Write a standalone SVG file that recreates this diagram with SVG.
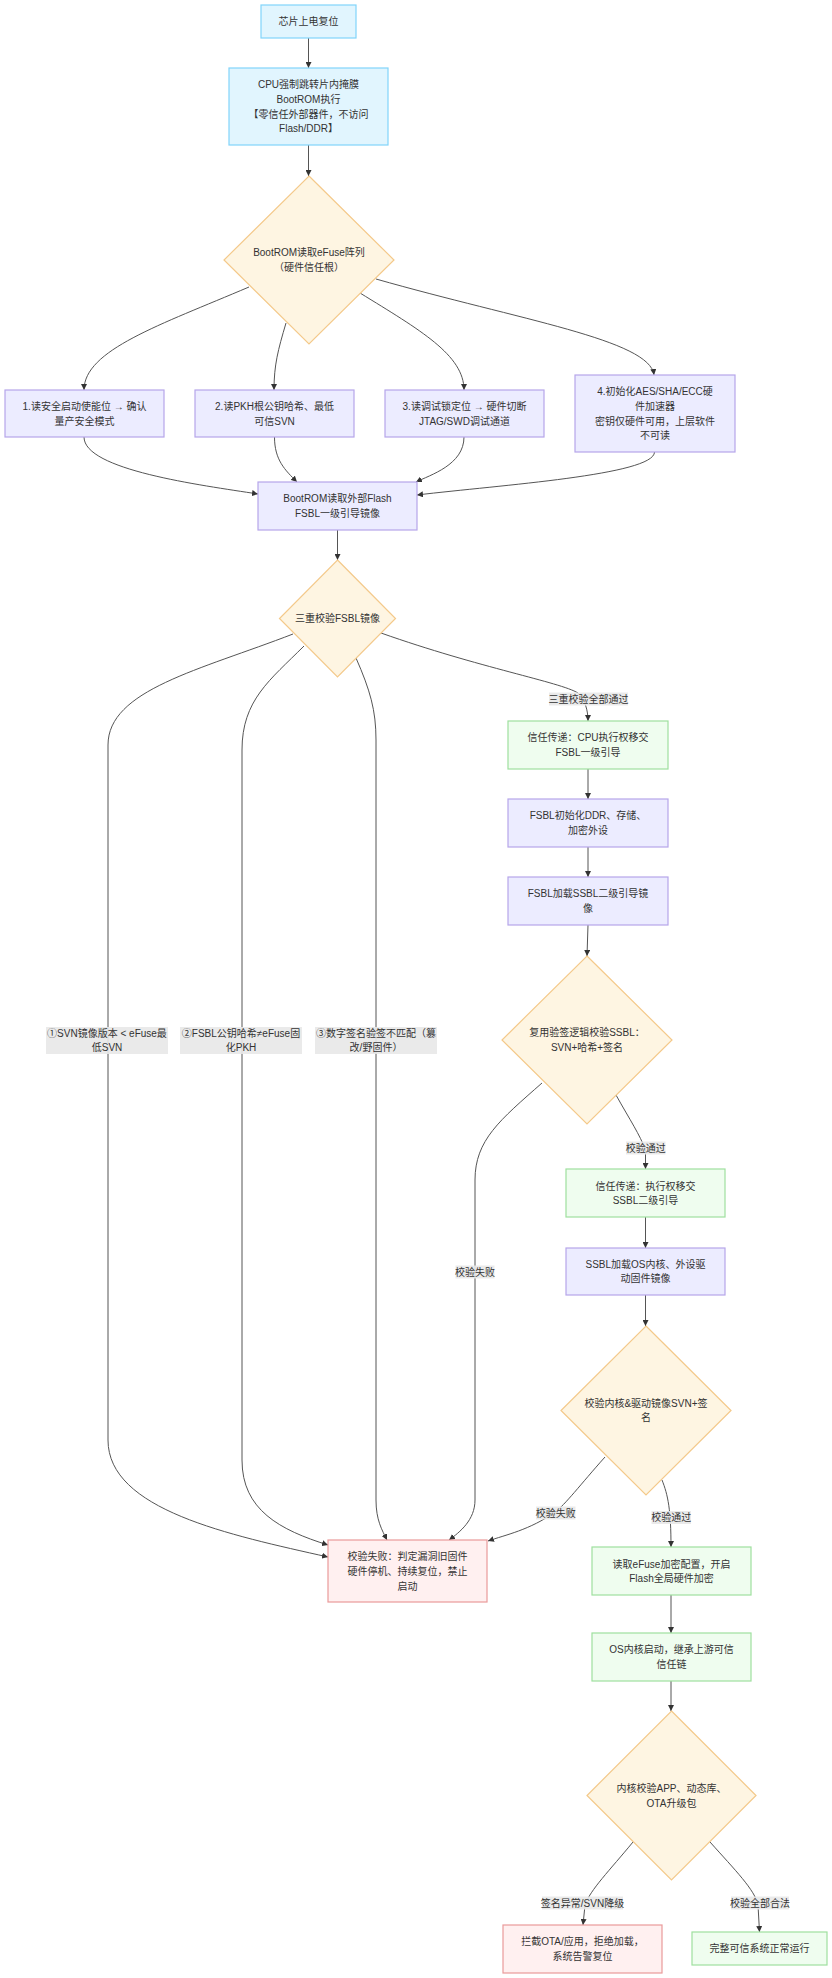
<svg xmlns="http://www.w3.org/2000/svg" width="832" height="1978" viewBox="0 0 832 1978">
<defs>
<marker id="arr" viewBox="0 0 10 10" refX="10" refY="5" markerWidth="6" markerHeight="6" markerUnits="userSpaceOnUse" orient="auto">
<path d="M0,0 L10,5 L0,10 z" fill="#333"/>
</marker>
<style>
.blue{fill:#e1f5fe;stroke:#81d4fa;stroke-width:1.2}
.dia{fill:#fef5e2;stroke:#f4c98a;stroke-width:1.2}
.pur{fill:#ececff;stroke:#b6a6ea;stroke-width:1.2}
.grn{fill:#effdef;stroke:#9ee09e;stroke-width:1.2}
.red{fill:#fff0f0;stroke:#ea9a9a;stroke-width:1.2}
text{font-family:"Liberation Sans","Noto Sans CJK SC",sans-serif;font-size:10px;fill:#333;text-anchor:middle;dominant-baseline:central}
.e{fill:none;stroke:#555;stroke-width:1;marker-end:url(#arr)}
.lb{fill:#e8e8e8;opacity:0.9}
</style>
</defs>
<rect width="832" height="1978" fill="#fff"/>

<g id="edges">
<path class="e" d="M308.5,38 L308.5,68"/>
<path class="e" d="M308.5,145 L308.5,176"/>
<path class="e" d="M249,287 C160,325 84,350 84,390"/>
<path class="e" d="M286,323 C278,350 274,365 274,390"/>
<path class="e" d="M360,293 C420,330 464,355 464,390"/>
<path class="e" d="M376,279 C520,320 650,340 654,375"/>
<path class="e" d="M84,437 C84,470 200,485 258,494"/>
<path class="e" d="M274.5,437 C274.5,460 285,470 297,482"/>
<path class="e" d="M464,437 C464,465 430,475 416,482"/>
<path class="e" d="M654.5,452 C654.5,475 500,485 417,495"/>
<path class="e" d="M337.5,530 L337.5,560"/>
<path class="e" d="M381,633 C480,668 560,682 578,693 C585,700 588,710 588,721"/>
<path class="e" d="M293,634 C200,670 108,690 108,745 L108,1440 C108,1510 230,1535 328,1557"/>
<path class="e" d="M304,646 C270,680 242,700 242,750 L242,1460 C242,1510 280,1530 328,1545"/>
<path class="e" d="M356,658 C370,690 376,710 376,740 L376,1500 C376,1520 382,1530 387,1540"/>
<path class="e" d="M588,769 L588,799"/>
<path class="e" d="M588,847 L588,877"/>
<path class="e" d="M588,925 L587,956"/>
<path class="e" d="M616,1095 C630,1120 640,1135 645.5,1150 L645.5,1169"/>
<path class="e" d="M542,1083 C500,1120 475,1140 475,1180 L475,1500 C475,1520 460,1532 449,1540"/>
<path class="e" d="M645.5,1217 L645.5,1248"/>
<path class="e" d="M645.5,1295 L645.5,1326"/>
<path class="e" d="M605,1457 C580,1485 565,1505 555,1512 C530,1530 505,1535 488,1541"/>
<path class="e" d="M662,1480 C668,1495 671,1510 671,1547"/>
<path class="e" d="M671,1595 L671,1633"/>
<path class="e" d="M671,1681 L671,1711"/>
<path class="e" d="M633,1842 C610,1870 590,1890 585,1905 L583,1925"/>
<path class="e" d="M710,1842 C735,1870 755,1890 758,1905 L759.5,1932"/>
</g>

<g id="edge-labels">
<rect class="lb" x="549" y="692.5" width="79" height="13"/>
<text x="588.5" y="699">三重校验全部通过</text>
<rect class="lb" x="46" y="1027" width="122" height="27"/>
<text x="107" y="1033.5">①SVN镜像版本 &lt; eFuse最</text>
<text x="107" y="1047.5">低SVN</text>
<rect class="lb" x="180" y="1027" width="122" height="27"/>
<text x="241" y="1033.5">②FSBL公钥哈希≠eFuse固</text>
<text x="241" y="1047.5">化PKH</text>
<rect class="lb" x="315" y="1027" width="122" height="27"/>
<text x="376" y="1033.5">③数字签名验签不匹配（篡</text>
<text x="376" y="1047.5">改/野固件）</text>
<rect class="lb" x="626" y="1141.5" width="39.5" height="13"/>
<text x="645.7" y="1148">校验通过</text>
<rect class="lb" x="455.5" y="1265.5" width="39" height="13"/>
<text x="475" y="1272">校验失败</text>
<rect class="lb" x="536" y="1506.5" width="39.5" height="13"/>
<text x="555.7" y="1513">校验失败</text>
<rect class="lb" x="651.5" y="1511" width="39.5" height="13"/>
<text x="671.2" y="1517.5">校验通过</text>
<rect class="lb" x="542" y="1896.5" width="81" height="13"/>
<text x="582.5" y="1903">签名异常/SVN降级</text>
<rect class="lb" x="731" y="1896.5" width="58" height="13"/>
<text x="760" y="1903">校验全部合法</text>
</g>

<g id="n1"><rect class="blue" x="261" y="5" width="95" height="33"/><text x="308.5" y="21.5">芯片上电复位</text></g>
<g id="n2"><rect class="blue" x="229" y="68" width="159" height="77"/>
<text x="308.5" y="84.5">CPU强制跳转片内掩膜</text><text x="308.5" y="99">BootROM执行</text><text x="308.5" y="114">【零信任外部器件，不访问</text><text x="308.5" y="128.5">Flash/DDR】</text></g>
<g id="d1"><polygon class="dia" points="309,176 394,260 309,344 224,260"/><text x="309" y="252.5">BootROM读取eFuse阵列</text><text x="309" y="267">（硬件信任根）</text></g>
<g id="b1"><rect class="pur" x="5" y="390" width="159" height="47"/><text x="84.5" y="406.7">1.读安全启动使能位 → 确认</text><text x="84.5" y="421.3">量产安全模式</text></g>
<g id="b2"><rect class="pur" x="195" y="390" width="159" height="47"/><text x="274.5" y="406.7">2.读PKH根公钥哈希、最低</text><text x="274.5" y="421.3">可信SVN</text></g>
<g id="b3"><rect class="pur" x="385" y="390" width="159" height="47"/><text x="464.5" y="406.7">3.读调试锁定位 → 硬件切断</text><text x="464.5" y="421.3">JTAG/SWD调试通道</text></g>
<g id="b4"><rect class="pur" x="575" y="375" width="160" height="77"/><text x="655" y="391.7">4.初始化AES/SHA/ECC硬</text><text x="655" y="406.3">件加速器</text><text x="655" y="421">密钥仅硬件可用，上层软件</text><text x="655" y="435.5">不可读</text></g>
<g id="flash"><rect class="pur" x="258" y="482" width="159" height="48"/><text x="337.5" y="498.7">BootROM读取外部Flash</text><text x="337.5" y="513.3">FSBL一级引导镜像</text></g>
<g id="d2"><polygon class="dia" points="337.5,560 395.5,618.5 337.5,677 279.5,618.5"/><text x="337.5" y="618.5">三重校验FSBL镜像</text></g>
<g id="g1"><rect class="grn" x="508" y="721" width="160" height="48"/><text x="588" y="737.7">信任传递：CPU执行权移交</text><text x="588" y="752.3">FSBL一级引导</text></g>
<g id="p1"><rect class="pur" x="508" y="799" width="160" height="48"/><text x="588" y="815.7">FSBL初始化DDR、存储、</text><text x="588" y="830.3">加密外设</text></g>
<g id="p2"><rect class="pur" x="508" y="877" width="160" height="48"/><text x="588" y="893.7">FSBL加载SSBL二级引导镜</text><text x="588" y="908.3">像</text></g>
<g id="d3"><polygon class="dia" points="587,956 672,1040 587,1124 502,1040"/><text x="587" y="1032.7">复用验签逻辑校验SSBL：</text><text x="587" y="1047.3">SVN+哈希+签名</text></g>
<g id="g2"><rect class="grn" x="566" y="1169" width="159" height="48"/><text x="645.5" y="1186">信任传递：执行权移交</text><text x="645.5" y="1200.6">SSBL二级引导</text></g>
<g id="p3"><rect class="pur" x="566" y="1248" width="159" height="47"/><text x="645.5" y="1264.2">SSBL加载OS内核、外设驱</text><text x="645.5" y="1278.8">动固件镜像</text></g>
<g id="d4"><polygon class="dia" points="646,1326 731,1410.5 646,1495 561,1410.5"/><text x="646" y="1403.3">校验内核&amp;驱动镜像SVN+签</text><text x="646" y="1417.7">名</text></g>
<g id="fail"><rect class="red" x="328" y="1540" width="159" height="62"/><text x="407.5" y="1556.7">校验失败：判定漏洞旧固件</text><text x="407.5" y="1571.3">硬件停机、持续复位，禁止</text><text x="407.5" y="1586">启动</text></g>
<g id="g3"><rect class="grn" x="592" y="1547" width="159" height="48"/><text x="671.5" y="1564">读取eFuse加密配置，开启</text><text x="671.5" y="1578.7">Flash全局硬件加密</text></g>
<g id="g4"><rect class="grn" x="592" y="1633" width="159" height="48"/><text x="671.5" y="1649.5">OS内核启动，继承上游可信</text><text x="671.5" y="1664">信任链</text></g>
<g id="d5"><polygon class="dia" points="671.5,1711 756,1795.5 671.5,1880 587,1795.5"/><text x="671.5" y="1788.3">内核校验APP、动态库、</text><text x="671.5" y="1803">OTA升级包</text></g>
<g id="r2"><rect class="red" x="503" y="1925" width="159" height="48"/><text x="582.5" y="1941.7">拦截OTA/应用，拒绝加载，</text><text x="582.5" y="1956.3">系统告警复位</text></g>
<g id="g5"><rect class="grn" x="692" y="1932" width="135" height="33"/><text x="759.5" y="1948.7">完整可信系统正常运行</text></g>
</svg>
